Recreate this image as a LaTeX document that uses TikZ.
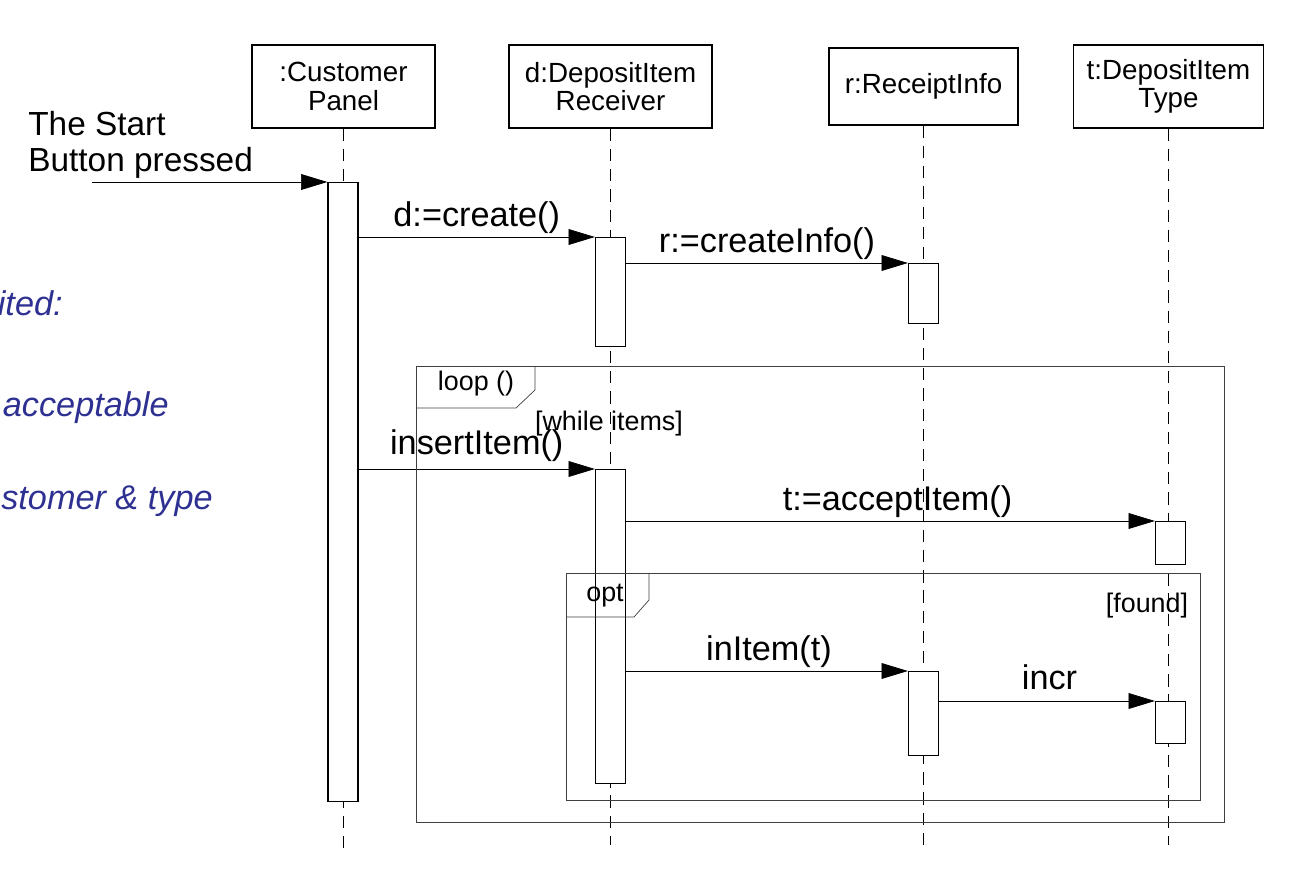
\documentclass[tikz,border=0pt]{standalone}
\usepackage{fontspec}
\setmainfont{Liberation Sans}
\usetikzlibrary{arrows.meta, positioning}
\definecolor{noteblue}{RGB}{46,49,146}

\tikzset{
  obj/.style={draw, line width=0.8pt, align=center, inner sep=0pt,
    font=\fontsize{15.8}{16}\selectfont},
  act/.style={draw, fill=white, line width=0.7pt, minimum width=0.6cm,
    anchor=north, inner sep=0pt},
  life/.style={line width=0.7pt, dash pattern=on 7pt off 4.5pt},
  msg/.style={line width=0.4pt, -{Triangle[length=15pt,width=9pt]}},
  lbl/.style={font=\fontsize{19.5}{22}\selectfont, above, inner sep=2pt},
  frm/.style={line width=0.4pt, draw=black!75},
  frmtxt/.style={font=\fontsize{15.3}{17}\selectfont, inner sep=0pt},
  note/.style={font=\fontsize{19.5}{23}\selectfont\itshape, text=noteblue,
    anchor=east, inner sep=0pt}
}

\begin{document}
\begin{tikzpicture}[x=0.02cm, y=-0.02cm]
    \useasboundingbox (0,0) rectangle (1298,884);

    % objects
    \node[obj, minimum width=3.66cm, minimum height=1.66cm] (cp) at (343.5,86.5) {:Customer\\Panel};
    \node[obj, minimum width=4.06cm, minimum height=1.66cm] (dir) at (610.5,86.5) {d:DepositItem\\Receiver};
    \node[obj, minimum width=3.78cm, minimum height=1.54cm] (ri) at (923.5,86.5) {r:ReceiptInfo};
    \node[obj, minimum width=3.80cm, minimum height=1.66cm] (dit) at (1168.5,86.5) {t:DepositItem\\Type};

    % lifelines
    \draw[life] (cp.south) -- (cp.south |- 0,850);
    \draw[life] (dir.south) -- (dir.south |- 0,845);
    \draw[life] (ri.south) -- (ri.south |- 0,845);
    \draw[life] (dit.south) -- (dit.south |- 0,845);

    % activations
    \node[act, minimum height=12.38cm] (cpA) at (343,182) {};
    \node[act, minimum height=2.18cm] (dirA) at (610.5,237) {};
    \node[act, minimum height=1.20cm] (riA) at (923.5,263) {};
    \node[act, minimum height=6.28cm] (dirB) at (610.5,469) {};
    \node[act, minimum height=0.86cm] (ditA) at (1170.5,521) {};
    \node[act, minimum height=1.68cm] (riB) at (923.5,671) {};
    \node[act, minimum height=0.84cm] (ditB) at (1170.5,701) {};

    % messages
    \coordinate (btn) at (92,182);
    \node[font=\fontsize{19}{20.5}\selectfont, align=left, anchor=north west, inner sep=0pt]
        (startT) at (28,111) {The Start\\Button pressed};
    \draw[msg] (btn) -- (cpA.north west);
    \draw[msg] (cpA.east |- dirA.north) -- (dirA.north west)
        node[lbl, midway] (mCreate) {d:=create()};
    \draw[msg] (dirA.east |- riA.north) -- (riA.north west)
        node[lbl, midway] (mInfo) {r:=createInfo()};
    \draw[msg] (cpA.east |- dirB.north) -- (dirB.north west)
        node[lbl, midway, inner sep=4pt] (mInsert) {insertItem()};
    \draw[msg] (dirB.east |- ditA.north) -- (ditA.north west)
        node[lbl, midway, xshift=0.14cm] (mAccept) {t:=acceptItem()};
    \draw[msg] (dirB.east |- riB.north) -- (riB.north west)
        node[lbl, midway, xshift=0.04cm] (mIn) {inItem(t)};
    \draw[msg] (riB.east |- ditB.north) -- (ditB.north west)
        node[lbl, midway, yshift=4pt, xshift=0.05cm] (mIncr) {incr};

    % combined fragments
    \draw[frm] (416,366) rectangle (1224,822);
    \draw[frm] (416,408) -- (516,408) -- (535,390) -- (535,366);
    \node[frmtxt] (loopT) at (476,384) {loop ()};
    \node[frmtxt] (loopG) at (609,424) {[while items]};
    \draw[frm] (566,573) rectangle (1200,800);
    \draw[frm] (566,617) -- (634,617) -- (649,600) -- (649,573);
    \node[frmtxt] (optT) at (605,596) {opt};
    \node[frmtxt] (optG) at (1147,606) {[found]};

    % notes cut at the left edge
    \node[note] (n1) at (63,303) {ited:};
    \node[note] (n2) at (169,408) {acceptable};
    \node[note] (n3) at (213,501) {stomer \& type};
\end{tikzpicture}
\end{document}
